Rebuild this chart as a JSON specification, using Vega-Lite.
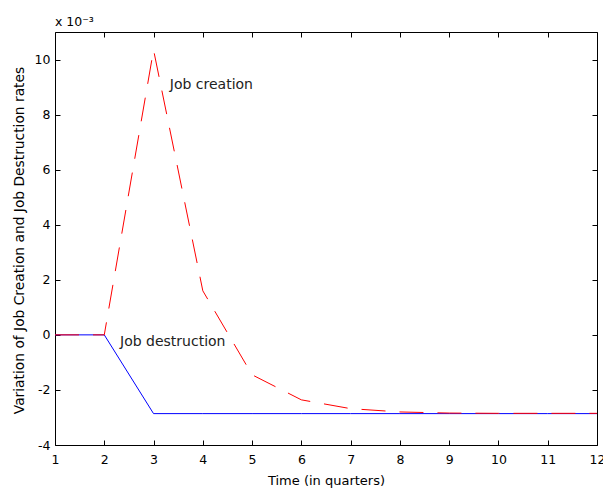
{
  "$schema": "https://vega.github.io/schema/vega-lite/v6.json",
  "width": 542,
  "height": 413,
  "autosize": {"type": "none"},
  "padding": {"left": 55, "top": 32, "right": 6, "bottom": 46},
  "background": "white",
  "title": {"text": "x 10⁻³", "anchor": "start", "frame": "group", "font": "DejaVu Sans", "fontSize": 12.5, "fontWeight": "normal", "color": "black", "offset": 3, "dx": 0},
  "config": {
    "view": {"stroke": null},
    "font": "DejaVu Sans",
    "axis": {"grid": false, "domainColor": "black", "tickColor": "black", "labelColor": "black", "titleColor": "black", "labelFont": "DejaVu Sans", "titleFont": "DejaVu Sans", "labelFontSize": 12.5, "titleFontSize": 13, "titleFontWeight": "normal", "tickSize": -5, "domainWidth": 1, "tickWidth": 1}
  },
  "datasets": {
    "series": [
      {"t": 1, "creation": 0, "destruction": 0},
      {"t": 2, "creation": 0, "destruction": 0},
      {"t": 3, "creation": 0.01035, "destruction": -0.00286},
      {"t": 4, "creation": 0.0016, "destruction": -0.00286},
      {"t": 5, "creation": -0.00145, "destruction": -0.00286},
      {"t": 6, "creation": -0.00236, "destruction": -0.00286},
      {"t": 7, "creation": -0.00268, "destruction": -0.00286},
      {"t": 8, "creation": -0.0028, "destruction": -0.00286},
      {"t": 9, "creation": -0.00284, "destruction": -0.00286},
      {"t": 10, "creation": -0.00285, "destruction": -0.00286},
      {"t": 11, "creation": -0.00285, "destruction": -0.00286},
      {"t": 12, "creation": -0.00285, "destruction": -0.00286}
    ],
    "labels": [
      {"t": 3.33, "v": 0.00909, "label": "Job creation"},
      {"t": 2.32, "v": -0.00025, "label": "Job destruction"}
    ]
  },
  "layer": [
    {
      "data": {"name": "series"},
      "mark": {"type": "line", "color": "#0000ff", "strokeWidth": 1},
      "encoding": {
        "x": {"field": "t", "type": "quantitative", "scale": {"domain": [1, 12], "nice": false, "zero": false},
              "axis": {"title": "Time (in quarters)", "values": [1,2,3,4,5,6,7,8,9,10,11,12], "labelPadding": 13, "titlePadding": 9, "labelFlush": false}},
        "y": {"field": "destruction", "type": "quantitative", "scale": {"domain": [-0.004, 0.011], "nice": false, "zero": false},
              "axis": {"title": "Variation of Job Creation and Job Destruction rates", "titleFontSize": 13.8, "titleY": 208, "values": [-0.004,-0.002,0,0.002,0.004,0.006,0.008,0.01], "labelExpr": "replace(format(datum.value*1000, 'd'), '−', '-')", "labelPadding": 10, "titlePadding": 8}}
      }
    },
    {
      "data": {"name": "series"},
      "mark": {"type": "line", "color": "#ff0000", "strokeWidth": 1, "strokeDash": [24, 14]},
      "encoding": {
        "x": {"field": "t", "type": "quantitative", "axis": {"orient": "top", "labels": false, "title": null, "values": [1,2,3,4,5,6,7,8,9,10,11,12]}},
        "y": {"field": "creation", "type": "quantitative", "axis": {"orient": "right", "labels": false, "title": null, "values": [-0.004,-0.002,0,0.002,0.004,0.006,0.008,0.01]}}
      }
    },
    {
      "data": {"name": "labels"},
      "mark": {"type": "text", "align": "left", "baseline": "middle", "fontSize": 14, "font": "DejaVu Sans", "color": "#222222"},
      "encoding": {
        "x": {"field": "t", "type": "quantitative", "axis": null},
        "y": {"field": "v", "type": "quantitative", "axis": null},
        "text": {"field": "label"}
      }
    }
  ],
  "resolve": {"axis": {"x": "independent", "y": "independent"}}
}
